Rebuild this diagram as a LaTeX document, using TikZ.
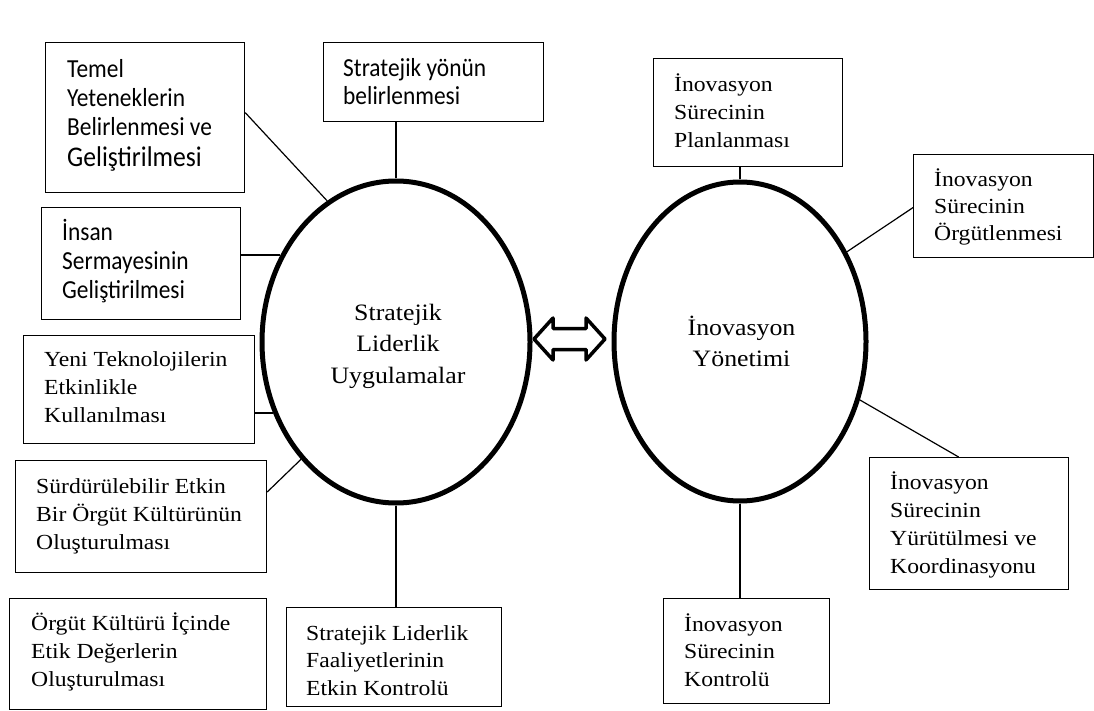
\documentclass[tikz,border=0pt]{standalone}
\usepackage{fontspec}
\setmainfont{Liberation Serif}
\newfontfamily\tnr{Liberation Serif}[FakeStretch=1.1]
\newfontfamily\calfont{Carlito}[FakeStretch=0.9]
\usetikzlibrary{shapes.geometric}
\newcommand\lstk[2][27.7pt]{\vtop{\baselineskip=#1\lineskiplimit=-\maxdimen\lineskip=0pt\halign{##\hfil\cr#2\crcr}}}
\newcommand\cstk[2][31.5pt]{\vtop{\baselineskip=#1\lineskiplimit=-\maxdimen\lineskip=0pt\halign{\hfil##\hfil\cr#2\crcr}}}
\tikzset{
  box/.style={draw, line width=1.2pt, inner sep=0pt, anchor=north west},
  tt/.style={inner sep=0pt, anchor=base west, font=\tnr\fontsize{21.5}{27.7}\selectfont},
  ct/.style={inner sep=0pt, anchor=base west, font=\calfont\fontsize{26}{29}\selectfont},
  oval/.style={ellipse, draw, line width=5pt, inner sep=0pt},
  et/.style={inner sep=0pt, anchor=base, font=\tnr\fontsize{23.5}{31.5}\selectfont},
  conn/.style={line width=1.2pt},
  dblarrow/.style={draw, fill=white, line width=3.5pt, line join=round}
}
\begin{document}
\begin{tikzpicture}[x=1pt, y=-1pt]
\useasboundingbox (0,0) rectangle (1094,711);
\fill[white] (0,0) rectangle (1094,711);

% ellipses
\node[oval, minimum width=268pt, minimum height=322pt] (sl) at (396,342) {};
\node[oval, minimum width=252pt, minimum height=319pt] (inv) at (740,341.5) {};
\node[et] (slt) at (398,320) {\cstk{Stratejik\cr Liderlik\cr Uygulamalar}};
\node[et] (invt) at (741.5,335) {\cstk{İnovasyon\cr Yönetimi}};

% left boxes
\node[box, minimum width=199pt, minimum height=150pt] (temel) at (45,42) {};
\node[ct] (temelt) at (67,78) {\lstk[29pt]{Temel\cr Yeteneklerin\cr Belirlenmesi ve\cr\noalign{\vskip2pt}{\fontsize{28.5}{30}\selectfont Geliştirilmesi}}};

\node[box, minimum width=220pt, minimum height=79pt] (yon) at (323,42) {};
\node[ct] (yont) at (343,77) {\lstk[28pt]{Stratejik yönün\cr belirlenmesi}};

\node[box, minimum width=199pt, minimum height=112pt] (insan) at (41,207) {};
\node[ct] (insant) at (62,241) {\lstk[28.5pt]{İnsan\cr Sermayesinin\cr Geliştirilmesi}};

\node[box, minimum width=231pt, minimum height=108pt] (yeni) at (23,335) {};
\node[tt] (yenit) at (44,366) {\lstk[28pt]{Yeni Teknolojilerin\cr Etkinlikle\cr Kullanılması}};

\node[box, minimum width=251pt, minimum height=112pt] (surd) at (15,460) {};
\node[tt] (surdt) at (36,493) {\lstk[28pt]{Sürdürülebilir Etkin\cr Bir Örgüt Kültürünün\cr Oluşturulması}};

\node[box, minimum width=257pt, minimum height=111pt] (orgk) at (9,598) {};
\node[tt] (orgkt) at (31,630) {\lstk[28pt]{Örgüt Kültürü İçinde\cr Etik Değerlerin\cr Oluşturulması}};

\node[box, minimum width=215pt, minimum height=99pt] (fk) at (286,607) {};
\node[tt] (fkt) at (306,640) {\lstk{Stratejik Liderlik\cr Faaliyetlerinin\cr Etkin Kontrolü}};

% right boxes
\node[box, minimum width=189pt, minimum height=108pt] (plan) at (653,58) {};
\node[tt] (plant) at (674,92) {\lstk{İnovasyon\cr Sürecinin\cr Planlanması}};

\node[box, minimum width=179.5pt, minimum height=103pt] (orgt) at (913,154) {};
\node[tt] (orgtt) at (934,187) {\lstk[27pt]{İnovasyon\cr Sürecinin\cr Örgütlenmesi}};

\node[box, minimum width=199pt, minimum height=132pt] (yur) at (869,457) {};
\node[tt] (yurt) at (890,489) {\lstk[28pt]{İnovasyon\cr Sürecinin\cr Yürütülmesi ve\cr Koordinasyonu}};

\node[box, minimum width=166pt, minimum height=105pt] (kon) at (663,598) {};
\node[tt] (kont) at (684,631) {\lstk{İnovasyon\cr Sürecinin\cr Kontrolü}};

% connectors, left
\draw[conn] ([yshift=5pt]temel.east) -- (sl.116.2);
\draw[conn] (sl.north) -- (sl.north |- yon.south);
\draw[conn] (sl.143.4) -- (sl.143.4 -| insan.east);
\draw[conn] (sl.210) -- (sl.210 -| yeni.east);
\draw[conn] ([yshift=-32pt]surd.north east) -- (sl.231);
\draw[conn] (sl.south) -- (sl.south |- fk.north);

% connectors, right
\draw[conn] (inv.north) -- (inv.north |- plan.south);
\draw[conn] ([yshift=-1.5pt]orgt.west) -- (inv.40.6);
\draw[conn] ([xshift=-10.5pt]yur.north) -- (inv.-26.2);
\draw[conn] (inv.south) -- (inv.south |- kon.north);

% double arrow
\draw[dblarrow] (534,339) -- (553,318) -- (553,328.5) -- (586,328.5) -- (586,318) -- (605,339)
  -- (586,360) -- (586,349.5) -- (553,349.5) -- (553,360) -- cycle;
\end{tikzpicture}
\end{document}
